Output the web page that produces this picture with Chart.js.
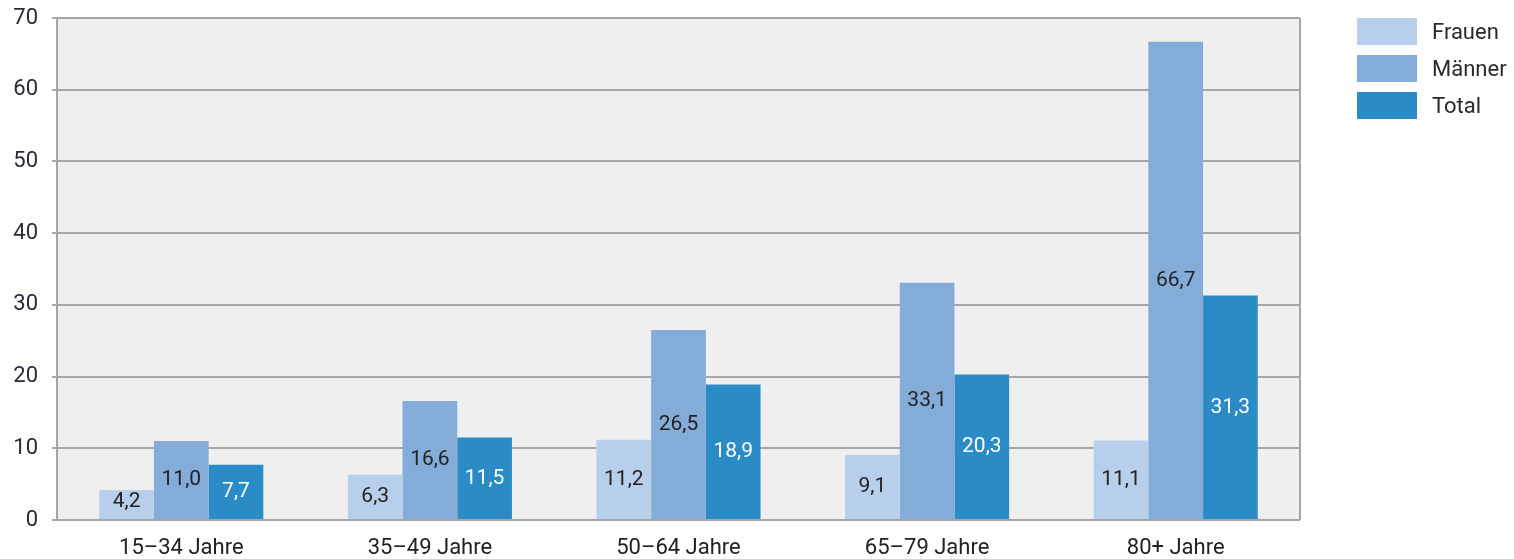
<!DOCTYPE html>
<html>
  <head>
    <title>Altersgruppen</title>
    <script src="https://cdn.jsdelivr.net/npm/chart.js"></script>
    <style>
      body { margin: 0; background: #fff; font-family: Roboto, sans-serif; }
      #wrap { position: relative; width: 1514px; height: 559px; }
      #legend { position: absolute; left: 1357px; top: 18px; }
      .leg-item { display: flex; align-items: center; height: 27px; margin-bottom: 10px; }
      .leg-box { width: 60px; height: 27px; margin-right: 15px; }
      .leg-text { font-size: 22px; color: #2a2a2a; }
    </style>
  </head>
  <body>
    <div id="wrap">
      <canvas id="myChart" width="1514" height="559"></canvas>
      <div id="legend"></div>
    </div>
    <script>
      // Daten
      const categories = ["15–34 Jahre", "35–49 Jahre", "50–64 Jahre", "65–79 Jahre", "80+ Jahre"];
      const frauen = [4.2, 6.3, 11.2, 9.1, 11.1];
      const maenner = [11.0, 16.6, 26.5, 33.1, 66.7];
      const total = [7.7, 11.5, 18.9, 20.3, 31.3];
      const yTicks = [0, 10, 20, 30, 40, 50, 60, 70];

      const series = [
        { label: "Frauen", data: frauen, color: "#b8cfeb", text: "#222" },
        { label: "Männer", data: maenner, color: "#83acd8", text: "#222" },
        { label: "Total", data: total, color: "#2b8bc7", text: "#fff" },
      ];

      // Hintergrund + Rahmen der Zeichenfläche
      const plotBg = {
        id: "plotBg",
        beforeDraw(chart) {
          const { ctx, chartArea: a } = chart;
          ctx.save();
          ctx.fillStyle = "#efefef";
          ctx.fillRect(a.left, a.top, a.right - a.left, a.bottom - a.top);
          ctx.restore();
        },
        afterDatasetsDraw(chart) {
          const { ctx, chartArea: a } = chart;
          ctx.save();
          ctx.strokeStyle = "#a6a6a6";
          ctx.lineWidth = 2;
          ctx.beginPath();
          ctx.moveTo(a.right, a.top);
          ctx.lineTo(a.right, a.bottom);
          ctx.stroke();
          ctx.restore();
        },
      };

      // Werte in die Balken schreiben
      const valueLabels = {
        id: "valueLabels",
        afterDatasetsDraw(chart) {
          const { ctx, chartArea: a } = chart;
          ctx.save();
          ctx.font = "21px Roboto, sans-serif";
          ctx.textAlign = "center";
          ctx.textBaseline = "middle";
          chart.data.datasets.forEach((ds, i) => {
            chart.getDatasetMeta(i).data.forEach((bar, j) => {
              let y = (bar.y + bar.base) / 2;
              y = Math.min(y, a.bottom - 18);
              ctx.fillStyle = series[i].text;
              ctx.fillText(ds.data[j].toFixed(1).replace(".", ","), bar.x, y);
            });
          });
          ctx.restore();
        },
      };

      const ctx = document.getElementById("myChart").getContext("2d");
      const chart = new Chart(ctx, {
        type: "bar",
        data: {
          labels: categories,
          datasets: series.map((s) => ({
            label: s.label,
            data: s.data,
            backgroundColor: s.color,
            borderWidth: 0,
            categoryPercentage: 0.66,
            barPercentage: 1,
          })),
        },
        options: {
          responsive: false,
          animation: false,
          layout: { padding: { top: 18, right: 214, left: 0, bottom: 0 } },
          plugins: {
            legend: { display: false },
            tooltip: { enabled: false },
          },
          scales: {
            x: {
              grid: { display: false },
              border: { display: false },
              ticks: {
                color: "#222",
                font: { family: "Roboto, sans-serif", size: 22 },
                padding: 7,
              },
              afterFit(scale) { scale.height = 39; },
            },
            y: {
              min: 0,
              max: 70,
              afterBuildTicks(scale) { scale.ticks = yTicks.map((v) => ({ value: v })); },
              grid: { color: "#a6a6a6", lineWidth: 2, tickLength: 5 },
              border: { color: "#a6a6a6", width: 2 },
              ticks: {
                color: "#2a2a3a",
                font: { family: "Roboto, sans-serif", size: 22 },
                padding: 14,
              },
              afterFit(scale) {
                scale.width = 57;
                scale.paddingTop = 0;
                scale.paddingBottom = 0;
              },
            },
          },
        },
        plugins: [plotBg, valueLabels],
      });

      // Legende
      const legend = document.getElementById("legend");
      series.forEach((s) => {
        const item = document.createElement("div");
        item.className = "leg-item";
        item.innerHTML = `<div class="leg-box" style="background:${s.color}"></div><span class="leg-text">${s.label}</span>`;
        legend.appendChild(item);
      });
    </script>
  </body>
</html>
